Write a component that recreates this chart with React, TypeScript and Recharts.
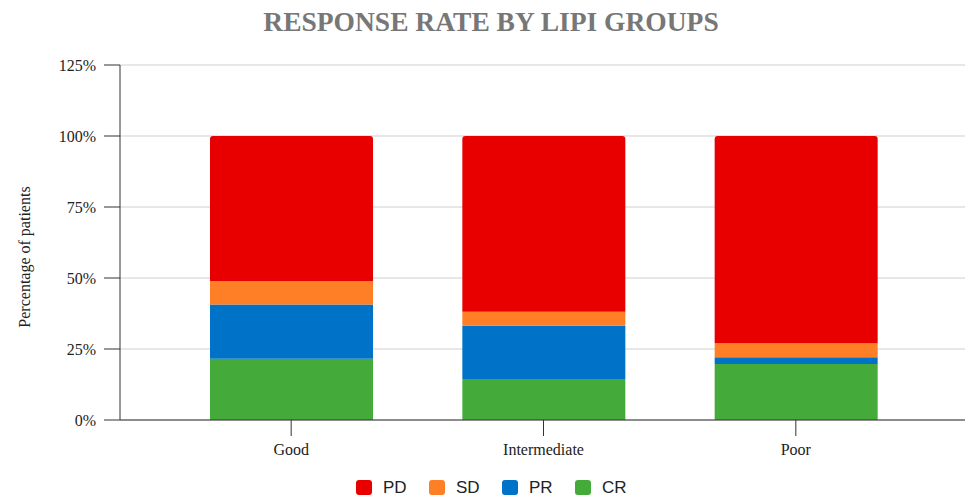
import { BarChart, Bar, XAxis, YAxis, CartesianGrid, Legend } from "recharts";

// LIPI groups and response shares (% of patients)
const groups = ["Good", "Intermediate", "Poor"];
const crValues = [21.6, 14.4, 19.7];
const prValues = [19.1, 18.8, 2.4];
const sdValues = [8.2, 4.9, 4.9];
const pdValues = [51.1, 61.9, 73.0];
const yTicks = [0, 25, 50, 75, 100, 125];
const legendOrder = ["PD", "SD", "PR", "CR"];

const chartData = groups.map((g, i) => ({
  group: g,
  CR: crValues[i],
  PR: prValues[i],
  SD: sdValues[i],
  PD: pdValues[i],
}));

const serif = '"Liberation Serif", "Times New Roman", serif';
const sans = '"Liberation Sans", Arial, sans-serif';

const renderLegend = (props: any) => {
  const items = [...(props.payload || [])].sort(
    (a: any, b: any) => legendOrder.indexOf(a.value) - legendOrder.indexOf(b.value)
  );
  return (
    <div style={{ display: "flex", paddingLeft: 356, paddingTop: 15, height: 15 }}>
      {items.map((item: any) => (
        <div
          key={item.value}
          style={{ display: "flex", alignItems: "center", width: 73, height: 15 }}
        >
          <span
            style={{
              width: 16,
              height: 15,
              background: item.color,
              borderRadius: 3,
              marginRight: 11,
              display: "inline-block",
            }}
          />
          <span style={{ fontFamily: sans, fontSize: 17, color: "#222" }}>
            {item.value}
          </span>
        </div>
      ))}
    </div>
  );
};

// rotated y-axis title, sits a little below the plot's middle like the original
const YTitle = () => (
  <text
    x={30}
    y={257}
    transform="rotate(-90, 30, 257)"
    textAnchor="middle"
    fontFamily={serif}
    fontSize={16}
    fill="#222"
  >
    Percentage of patients
  </text>
);

export default function App() {
  return (
    <div
      style={{
        position: "absolute",
        left: 0,
        top: 0,
        width: 965,
        height: 497,
        background: "#fff",
      }}
    >
      <div
        style={{
          position: "absolute",
          top: 6,
          left: 0,
          width: 982,
          textAlign: "center",
          fontFamily: serif,
          fontWeight: "bold",
          fontSize: 27.5,
          color: "#777",
          zIndex: 2,
        }}
      >
        RESPONSE RATE BY LIPI GROUPS
      </div>
      <BarChart
        width={965}
        height={497}
        data={chartData}
        margin={{ top: 65, right: 0, bottom: 2, left: 0 }}
      >
        <CartesianGrid vertical={false} stroke="#d0d0d0" strokeWidth={1.2} />
        <XAxis
          dataKey="group"
          height={45}
          padding={{ left: 45, right: 43 }}
          tickSize={16}
          tickMargin={8}
          stroke="#333"
          tick={{ fontFamily: serif, fontSize: 16, fill: "#222" }}
        />
        <YAxis
          width={120}
          domain={[0, 125]}
          ticks={yTicks}
          tickFormatter={(v) => `${v}%`}
          tickSize={16}
          tickMargin={8}
          stroke="#333"
          tick={{ fontFamily: serif, fontSize: 16, fill: "#222" }}
          label={{ content: () => <YTitle /> }}
        />
        <Legend verticalAlign="bottom" content={renderLegend} />
        <Bar dataKey="CR" stackId="a" fill="#44AB3A" barSize={163} isAnimationActive={false} />
        <Bar dataKey="PR" stackId="a" fill="#0073C8" barSize={163} isAnimationActive={false} />
        <Bar dataKey="SD" stackId="a" fill="#FF7F27" barSize={163} isAnimationActive={false} />
        <Bar
          dataKey="PD"
          stackId="a"
          fill="#E80000"
          barSize={163}
          radius={[3, 3, 0, 0]}
          isAnimationActive={false}
        />
      </BarChart>
    </div>
  );
}
